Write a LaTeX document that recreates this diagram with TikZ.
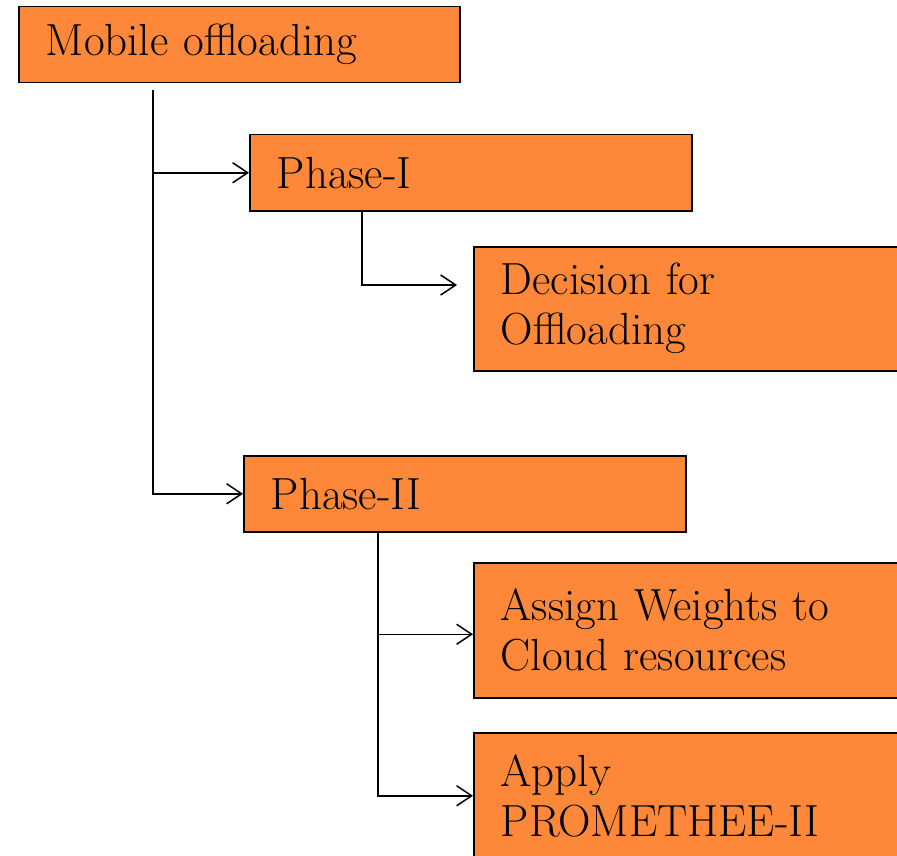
\documentclass[tikz,border=0pt]{standalone}
\usepackage{tikz}
\usetikzlibrary{arrows.meta, positioning}
\definecolor{boxorange}{RGB}{253,136,57}
\tikzset{
    stepbox/.style={rectangle, draw, fill=boxorange, line width=1.5pt, anchor=north west, inner xsep=27pt, inner ysep=0pt, align=left, font=\fontsize{45}{50}\selectfont},
    link/.style={draw, line width=1.5pt, -{Straight Barb[length=15pt, width=20pt, line width=1.5pt]}},
}
\begin{document}
\begin{tikzpicture}[x=1pt, y=-1pt]
    \useasboundingbox (0,0) rectangle (897,856);
    \clip (0,0) rectangle (897,856);

    % Top level
    \node[stepbox, text width=387pt, minimum height=76pt] (mob) at (18,6) {Mobile offloading};

    % Phase one
    \node[stepbox, text width=388pt, minimum height=76pt] (ph1) at (249,134) {Phase-I};
    \node[stepbox, text width=430pt, minimum height=124pt] (dec) at (473,246) {Decision for\\Offloading};

    % Phase two
    \node[stepbox, text width=388pt, minimum height=76pt] (ph2) at (243,455) {Phase-II};
    \node[stepbox, text width=430pt, minimum height=135pt] (asg) at (473,562) {Assign Weights to\\Cloud resources};
    \node[stepbox, text width=430pt, minimum height=126pt] (app) at (473,732) {Apply\\PROMETHEE-II};

    % Connectors
    \coordinate (trunk) at (153,90);
    \coordinate (ph1-out) at (362,210);
    \coordinate (dec-in) at (457,285);
    \coordinate (ph2-out) at (378,531);

    \draw[link] (trunk) |- (ph1.west);
    \draw[link] (trunk) |- (ph2.west);
    \draw[link] (ph1-out) |- (dec-in);
    \draw[link] (ph2-out) |- ([yshift=-4pt]asg.west);
    \draw[link] (ph2-out) |- (app.west);
\end{tikzpicture}
\end{document}
